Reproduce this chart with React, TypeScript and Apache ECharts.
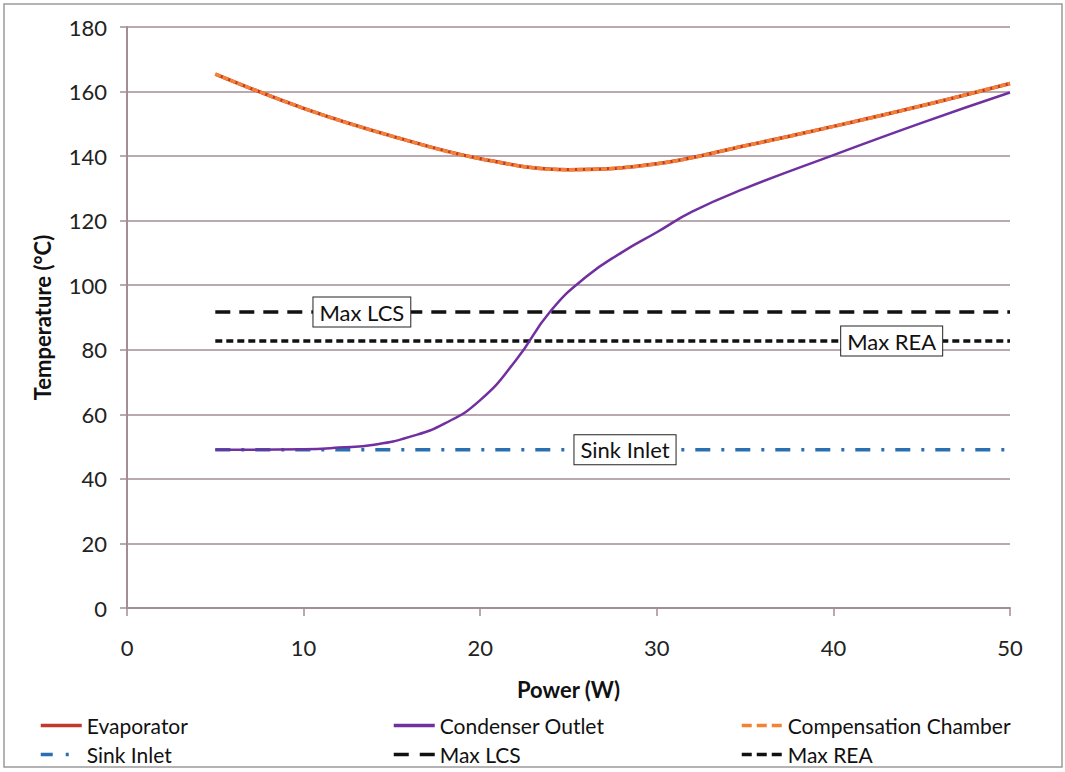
import React, { useEffect, useRef } from "react";
import * as echarts from "echarts";

const evapX = [5, 10, 15, 20, 25, 30, 35, 40, 45, 50];
const evapY = [165.4, 154.8, 146.2, 139.2, 135.8, 137.6, 143.2, 149.2, 155.6, 162.5];
const condX = [5, 10, 12, 14, 16, 18, 20, 22, 24, 26, 28, 30, 32, 35, 40, 45, 50];
const condY = [49, 49.2, 49.7, 50.6, 53.0, 57.2, 64.4, 76.6, 92.1, 102.6, 110.1, 116.4, 122.8, 130, 140.3, 150.3, 159.7];
const sinkInlet = 49;
const maxLCS = 91.7;
const maxREA = 82.7;
const thresholdRange = [5, 50];
const labelPos = { lcs: 13.3, rea: 43.3, sink: 28.2 };

const FONT = "Lato";
const AX = "#a38d96";

const C_EVAP = "#c0392b";
const C_COND = "#7030a0";
const C_COMP = "#f58232";
const C_SINK = "#2a70b0";
const C_BLK = "#111";

const DASH_SINK = [15, 11, 3, 11];
const DASH_LCS = [15, 9];
const DASH_REA = [7, 4];
const DASH_COMP = [6, 2];

function pairs(xs: number[], ys: number[]) {
  return xs.map((x, i) => [x, ys[i]]);
}
function flat(v: number) {
  return thresholdRange.map((x) => [x, v]);
}

function boxLabel(name: string, x: number, y: number) {
  return {
    silent: true,
    symbol: "rect",
    symbolSize: 0,
    data: [
      {
        coord: [x, y],
        label: {
          show: true,
          position: "inside",
          formatter: name,
          fontFamily: FONT,
          fontSize: 22,
          color: "#111",
          backgroundColor: "#fff",
          borderColor: "#222",
          borderWidth: 1,
          padding: [4, 6, 3, 6],
        },
      },
    ],
  };
}

export default function App() {
  const ref = useRef<HTMLDivElement>(null);
  useEffect(() => {
    const chart = echarts.init(ref.current!, undefined, { renderer: "svg" });
    const legendText = { fontFamily: FONT, fontSize: 21, color: "#111" };
    const legendCommon = {
      orient: "vertical",
      top: 715,
      padding: 0,
      itemWidth: 41,
      itemHeight: 14,
      itemGap: 8,
      textStyle: legendText,
      selectedMode: false,
      itemStyle: { opacity: 0 },
    };
    const li = (name: string, color: string, type: any, width = 3.5) => ({
      name,
      itemStyle: { opacity: 0 },
      lineStyle: { color, type, width },
    });
    chart.setOption({
      animation: false,
      backgroundColor: "#fff",
      graphic: [
        {
          type: "rect",
          shape: { x: 4, y: 4, width: 1058, height: 763 },
          style: { fill: "none", stroke: "#9a9a9a", lineWidth: 1.5 },
          silent: true,
        },
      ],
      grid: { left: 127, right: 55, top: 27, bottom: 164 },
      xAxis: {
        type: "value",
        min: 0,
        max: 50,
        interval: 10,
        name: "Power (W)",
        nameLocation: "middle",
        nameGap: 70,
        nameTextStyle: { fontFamily: FONT, fontSize: 22, fontWeight: "bold", color: "#111" },
        axisLine: { lineStyle: { color: AX, width: 2 } },
        axisTick: { show: true, length: 8, lineStyle: { color: AX, width: 1.5 } },
        axisLabel: { fontFamily: FONT, fontSize: 22, color: "#222", margin: 28 },
        splitLine: { show: false },
      },
      yAxis: {
        type: "value",
        min: 0,
        max: 180,
        interval: 20,
        name: "Temperature (°C)",
        nameLocation: "middle",
        nameGap: 74,
        nameTextStyle: { fontFamily: FONT, fontSize: 22, fontWeight: "bold", color: "#111" },
        axisLine: { show: true, lineStyle: { color: AX, width: 2 } },
        axisTick: { show: true, length: 7, lineStyle: { color: AX, width: 1.5 } },
        axisLabel: { fontFamily: FONT, fontSize: 22, color: "#222", margin: 20 },
        splitLine: { show: true, lineStyle: { color: AX, width: 1.5 } },
      },
      legend: [
        {
          ...legendCommon,
          left: 39,
          data: [li("Evaporator", C_EVAP, "solid"), li("Sink Inlet", C_SINK, [12, 13, 3, 20])],
        },
        {
          ...legendCommon,
          left: 392,
          data: [li("Condenser Outlet", C_COND, "solid"), li("Max LCS", C_BLK, [15, 11])],
        },
        {
          ...legendCommon,
          left: 740,
          data: [li("Compensation Chamber", C_COMP, [10, 5]), li("Max REA", C_BLK, [10, 5])],
        },
      ],
      series: [
        {
          name: "Sink Inlet",
          type: "line",
          data: flat(sinkInlet),
          symbol: "none",
          lineStyle: { color: C_SINK, width: 3.5, type: DASH_SINK },
          itemStyle: { color: C_SINK },
          markPoint: boxLabel("Sink Inlet", labelPos.sink, sinkInlet),
          z: 3,
        },
        {
          name: "Max LCS",
          type: "line",
          data: flat(maxLCS),
          symbol: "none",
          lineStyle: { color: C_BLK, width: 3.5, type: DASH_LCS },
          itemStyle: { color: C_BLK },
          markPoint: boxLabel("Max LCS", labelPos.lcs, maxLCS),
          z: 3,
        },
        {
          name: "Max REA",
          type: "line",
          data: flat(maxREA),
          symbol: "none",
          lineStyle: { color: C_BLK, width: 3.5, type: DASH_REA },
          itemStyle: { color: C_BLK },
          markPoint: boxLabel("Max REA", labelPos.rea, maxREA),
          z: 3,
        },
        {
          name: "Condenser Outlet",
          type: "line",
          data: pairs(condX, condY),
          smooth: 0.5,
          symbol: "none",
          lineStyle: { color: C_COND, width: 2.5 },
          itemStyle: { color: C_COND },
          z: 4,
        },
        {
          name: "Evaporator",
          type: "line",
          data: pairs(evapX, evapY),
          smooth: 0.4,
          symbol: "none",
          lineStyle: { color: C_EVAP, width: 3.5 },
          itemStyle: { color: C_EVAP },
          z: 5,
        },
        {
          name: "Compensation Chamber",
          type: "line",
          data: pairs(evapX, evapY),
          smooth: 0.4,
          symbol: "none",
          lineStyle: { color: C_COMP, width: 3.5, type: DASH_COMP },
          itemStyle: { color: C_COMP },
          z: 6,
        },
      ],
    });
    return () => chart.dispose();
  }, []);
  return (
    <div
      ref={ref}
      style={{ position: "fixed", left: 0, top: 0, width: 1065, height: 772, background: "#fff" }}
    />
  );
}
